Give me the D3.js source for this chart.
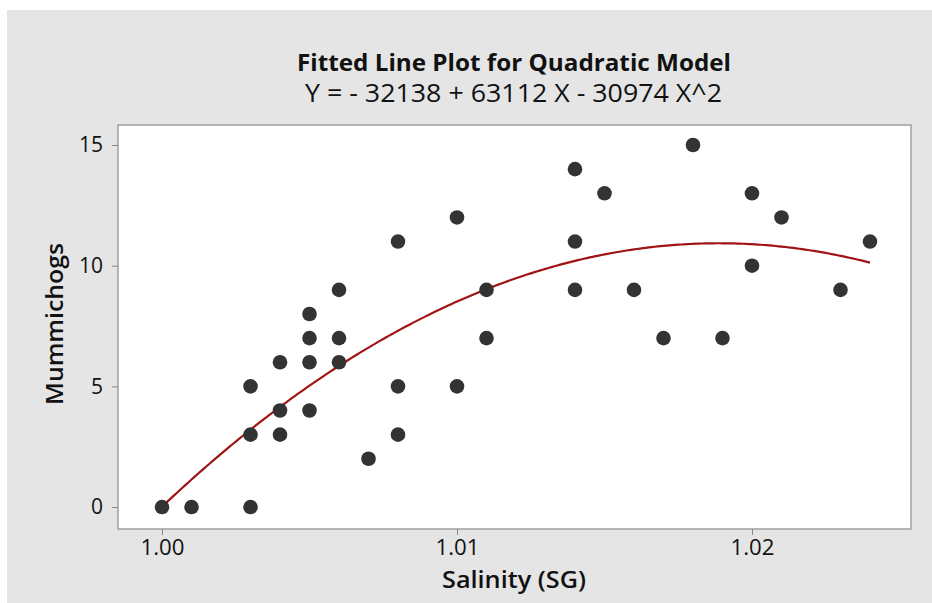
<!DOCTYPE html>
<html><head><meta charset="utf-8">
<script src="https://cdn.jsdelivr.net/npm/d3@7"></script>
<style>body{margin:0;background:#fff}svg{display:block}</style>
</head><body>
<svg id="chart" width="932" height="603"></svg>
<script>
const salinity = [1.000,1.001,1.003,1.003,1.003,1.004,1.004,1.004,1.005,1.005,1.005,1.005,1.006,1.006,1.006,1.007,1.008,1.008,1.008,1.010,1.010,1.011,1.011,1.014,1.014,1.014,1.015,1.016,1.017,1.018,1.019,1.020,1.020,1.021,1.023,1.024];
const mummichogs = [0,0,5,3,0,6,4,3,8,7,6,4,9,7,6,2,11,5,3,12,5,9,7,14,11,9,13,9,7,15,7,13,10,12,9,11];
const xTicks = [1.00,1.01,1.02];
const yTicks = [0,5,10,15];
const titleText = "Fitted Line Plot for Quadratic Model";
const subtitleText = "Y = - 32138 + 63112 X - 30974 X^2";
const xLabel = "Salinity (SG)";
const yLabel = "Mummichogs";

const svg = d3.select("#chart");
const font = "'Open Sans', 'DejaVu Sans', sans-serif";
svg.append("rect").attr("x",7).attr("y",10).attr("width",925).attr("height",593).attr("fill","#e5e5e5");

const L=118, T=125, R=911, B=529;
const x = d3.scaleLinear().domain([0.998508,1.025390]).range([L,R]);
const y = d3.scaleLinear().domain([-0.91,15.83]).range([B,T]);

svg.append("rect").attr("x",L).attr("y",T).attr("width",R-L).attr("height",B-T)
  .attr("fill","#fff").attr("stroke","#a0a0a0").attr("stroke-width",1.5);

// axes
const xa = svg.append("g").attr("transform",`translate(0,${B})`)
  .call(d3.axisBottom(x).tickValues(xTicks).tickFormat(d3.format(".2f")).tickSize(6).tickPadding(5));
const ya = svg.append("g").attr("transform",`translate(${L},0)`)
  .call(d3.axisLeft(y).tickValues(yTicks).tickSize(6).tickPadding(9));
[xa,ya].forEach(g=>{
  g.select(".domain").remove();
  g.selectAll(".tick line").attr("stroke","#888");
  g.selectAll(".tick text").attr("font-family",font).attr("font-size",21).attr("fill","#111");
});
xa.selectAll(".tick text").attr("textLength",44).attr("lengthAdjust","spacingAndGlyphs");

// quadratic least-squares fit (centered)
const mx = d3.mean(salinity);
const u = salinity.map(v=>(v-mx)*100);
let S=[[0,0,0],[0,0,0],[0,0,0]], Sy=[0,0,0];
u.forEach((ui,i)=>{const p=[1,ui,ui*ui];for(let a=0;a<3;a++){Sy[a]+=p[a]*mummichogs[i];for(let b=0;b<3;b++)S[a][b]+=p[a]*p[b];}});
function solve(A,bv){A=A.map((r,i)=>[...r,bv[i]]);const m=A.length;
  for(let i=0;i<m;i++){let mxr=i;for(let k=i+1;k<m;k++)if(Math.abs(A[k][i])>Math.abs(A[mxr][i]))mxr=k;[A[i],A[mxr]]=[A[mxr],A[i]];
    for(let k=i+1;k<m;k++){const f=A[k][i]/A[i][i];for(let j=i;j<=m;j++)A[k][j]-=f*A[i][j];}}
  const s=new Array(m);for(let i=m-1;i>=0;i--){let t=A[i][m];for(let j=i+1;j<m;j++)t-=A[i][j]*s[j];s[i]=t/A[i][i];}return s;}
const c = solve(S,Sy);
const fitFn = v=>{const w=(v-mx)*100;return c[0]+c[1]*w+c[2]*w*w;};
const xs = d3.range(0,241).map(i=>d3.min(salinity)+(d3.max(salinity)-d3.min(salinity))*i/240);
svg.append("path").datum(xs)
  .attr("d",d3.line().x(d=>x(d)).y(d=>y(fitFn(d))))
  .attr("fill","none").attr("stroke","#a01414").attr("stroke-width",2.2);

svg.append("g").selectAll("circle").data(salinity).join("circle")
  .attr("cx",d=>x(d)).attr("cy",(d,i)=>y(mummichogs[i])).attr("r",7.3).attr("fill","#333");

function label(sel, txt, size, weight, len){
  return sel.attr("text-anchor","middle").attr("font-family",font).attr("font-weight",weight)
    .attr("font-size",size).attr("fill","#111").attr("textLength",len).attr("lengthAdjust","spacingAndGlyphs").text(txt);
}
label(svg.append("text").attr("x",514).attr("y",71), titleText, 24, "bold", 434);
label(svg.append("text").attr("x",513.5).attr("y",102), subtitleText, 25, "normal", 417);
label(svg.append("text").attr("x",514).attr("y",588), xLabel, 24, 600, 144);
label(svg.append("text").attr("transform","translate(63,324) rotate(-90)"), yLabel, 24, 600, 162);
</script>
</body></html>
